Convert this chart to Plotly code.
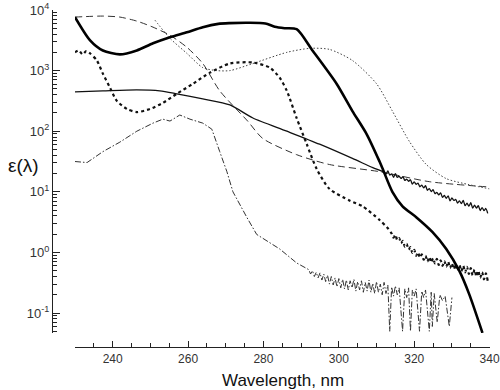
import plotly.graph_objects as go

# ---- data (wavelength nm, epsilon) ----
A_wl = [230, 234, 237.4, 241.9, 246.4, 250.7, 255.2, 259.7, 263.9, 268, 271.1, 276, 280.5, 283, 285.6, 288.8,
        293.0, 299.4, 303.6, 307.4, 310.8, 311.6, 314.2, 316.9, 320.6, 324.8, 328.5, 332.0, 334.6, 338.1]
A_eps = [7640, 3160, 2150, 1850, 2150, 2820, 3550, 4300, 5210, 5900, 6070, 6150, 6000, 5300, 5010, 4820,
         2150, 607, 215, 89, 31.6, 24.2, 10, 5.77, 3.78, 2.18, 1.14, 0.49, 0.203, 0.047]

B_wl = [230, 237.4, 241.9, 246.4, 250.7, 255.2, 259.7, 263.9, 268.4, 275.8, 279.8, 288.8, 297.5, 310.8, 324.0, 339.1]
B_eps = [7640, 7940, 7640, 6560, 5210, 3830, 2420, 1310, 464, 147, 76, 41, 28.2, 21.5, 14.7, 12.1]

E_wl = [251.2, 255.2, 259.7, 263.9, 267.6, 271.1, 277.2, 286.2, 292.3, 297.5, 303.6, 310.0, 314.2, 318.7,
        323.2, 328.5, 334.6, 339.9]
E_eps = [6810, 3410, 1920, 1120, 1000, 1000, 1310, 2000, 2330, 2240, 1470, 607, 215, 68,
         28.2, 16.5, 13.1, 11.2]

C_wl = [230, 231, 232, 233, 234, 235.8, 237.4, 239.3, 241.1, 243.8, 246.4, 249.9, 253.3, 257.0, 261.3, 265.8,
        271.1, 277.2, 281.7, 284.3, 286.2, 288.8, 291.5, 294.1, 297.5, 302.8, 306.3, 310.8, 313,
        314, 314.5, 315, 315.5, 316, 316.5, 317, 317.5, 318, 318.5, 319, 319.5, 320, 320.5, 321, 321.5,
        322, 322.5, 323, 323.5, 324, 324.5, 325, 325.5, 326, 326.5, 327, 327.5, 328, 328.5, 329, 329.5,
        330, 330.5, 331, 331.5, 332, 332.5, 333, 333.5, 334, 334.5, 335, 335.5, 336, 336.5, 337, 337.5,
        338, 338.5, 339, 339.5]
C_eps = [2000, 2150, 1850, 2100, 1920, 1470, 891, 521, 316, 233, 207, 233, 293, 414, 607, 926,
         1310, 1360, 1120, 764, 464, 165, 61, 24, 11.2, 7.2, 5.77, 3.43, 2.5,
         2.05, 1.75, 1.95, 1.6, 1.72, 1.42, 1.55, 1.25, 1.38, 1.12, 1.22, 0.98, 1.1, 0.88, 1.0, 0.82,
         0.93, 0.76, 0.88, 0.71, 0.84, 0.68, 0.8, 0.66, 0.78, 0.62, 0.74, 0.6, 0.72, 0.58, 0.7, 0.55,
         0.66, 0.53, 0.64, 0.5, 0.62, 0.49, 0.6, 0.47, 0.58, 0.44, 0.55, 0.42, 0.52, 0.4, 0.5, 0.38,
         0.47, 0.36, 0.45, 0.34]

D_wl = [230, 237.4, 246.4, 252.5, 257.0, 263.9, 271.1, 277.2, 286.2, 294.9, 303.6, 309,
        312, 312.5, 313, 313.5, 314, 314.5, 315, 315.5, 316, 316.5, 317, 317.5, 318, 318.5, 319, 319.5,
        320, 320.5, 321, 321.5, 322, 322.5, 323, 323.5, 324, 324.5, 325, 325.5, 326, 326.5, 327, 327.5,
        328, 328.5, 329, 329.5, 330, 330.5, 331, 331.5, 332, 332.5, 333, 333.5, 334, 334.5, 335, 335.5,
        336, 336.5, 337, 337.5, 338, 338.5, 339, 339.5]
D_eps = [447, 464, 482, 464, 414, 341, 271, 165, 100, 61, 35.5, 25,
         21.0, 19.6, 22.1, 18.9, 19.8, 17.4, 19.9, 17.3, 18.1, 16.6, 17.8, 15.4, 16.2, 14.9, 15.8, 13.4,
         14.6, 13.3, 13.9, 12.1, 12.9, 11.6, 12.6, 10.6, 11.3, 10.1, 10.9, 9.3, 9.8, 8.9, 9.6, 8.1,
         8.7, 7.8, 8.6, 7.1, 7.9, 7.2, 7.5, 6.5, 7.1, 6.4, 7.2, 5.9, 6.5, 5.8, 6.6, 5.4,
         6.0, 5.4, 5.9, 4.9, 5.5, 4.9, 5.3, 4.4]

F_wl = [230, 233.2, 237.4, 241.9, 246.4, 250.7, 253.3, 255.2, 257.8, 260.5, 263.9, 266.3, 268.4, 270.3,
        271.9, 273.7, 275.6, 278.2, 281.7, 284.3, 288.8,
        292, 292.5, 293, 293.5, 294, 294.5, 295, 295.5, 296, 296.5, 297, 297.5, 298, 298.5, 299, 299.5,
        300, 300.5, 301, 301.5, 302, 302.5, 303, 303.5, 304, 304.5, 305, 305.5, 306, 306.5, 307, 307.5,
        308, 308.5, 309, 309.5, 310, 310.5, 311, 311.5, 312, 312.5, 313, 313.5, 314, 314.5, 315, 315.5,
        316, 316.9, 317.5, 318, 318.5, 319, 319.5, 320, 320.5, 321.4, 322, 322.5, 323, 324, 324.5, 324.8,
        325.3, 326.1, 326.8, 327.5, 328.2, 329.3, 330]
F_eps = [31.6, 30.4, 46, 66, 100, 136, 158, 147, 185, 158, 136, 108, 46, 21.5,
         10, 6.15, 3.78, 1.98, 1.43, 1.14, 0.67,
         0.52, 0.44, 0.5, 0.4, 0.47, 0.38, 0.46, 0.35, 0.44, 0.33, 0.42, 0.3, 0.4, 0.29, 0.38, 0.27,
         0.37, 0.26, 0.36, 0.25, 0.35, 0.24, 0.34, 0.26, 0.36, 0.23, 0.33, 0.24, 0.34, 0.22, 0.32, 0.23,
         0.35, 0.22, 0.31, 0.21, 0.33, 0.22, 0.3, 0.2, 0.32, 0.21, 0.29, 0.05, 0.27, 0.19, 0.28, 0.2,
         0.26, 0.05, 0.25, 0.18, 0.26, 0.05, 0.24, 0.19, 0.25, 0.05, 0.23, 0.18, 0.24, 0.05, 0.22, 0.06,
         0.21, 0.07, 0.2, 0.16, 0.19, 0.06, 0.18]

x_tickvals = [240, 260, 280, 300, 320, 340]
x_ticktext = ["240", "260", "280", "300", "320", "340"]
y_tickvals = [0.1, 1, 10, 100, 1000, 10000]
y_ticktext = ["10<sup>-1</sup>", "10<sup>0</sup>", "10<sup>1</sup>", "10<sup>2</sup>", "10<sup>3</sup>", "10<sup>4</sup>"]

fig = go.Figure()

def add(x, y, width, dash, color, shape="spline"):
    fig.add_trace(go.Scatter(x=x, y=y, mode="lines",
                             line=dict(width=width, dash=dash, color=color, shape=shape, smoothing=0.7),
                             showlegend=False, hoverinfo="skip"))

add(B_wl, B_eps, 1.0, "7px,4px", "#333333")
add(E_wl, E_eps, 1.0, "1.5px,2px", "#444444")
add(F_wl, F_eps, 1.0, "6px,2px,1.5px,2px", "#333333", shape="linear")
add(D_wl, D_eps, 1.3, "solid", "#111111")
add(C_wl, C_eps, 2.2, "3px,3px", "#111111")
add(A_wl, A_eps, 2.6, "solid", "#000000")

minor_y = []
for dec in [0.01, 0.1, 1, 10, 100, 1000]:
    for m in range(2, 10):
        v = m * dec
        if 0.045 <= v <= 10000:
            minor_y.append(v)

fig.update_layout(
    width=500, height=390, autosize=False,
    margin=dict(l=52, r=10, t=10, b=43, autoexpand=False),
    paper_bgcolor="white", plot_bgcolor="white",
    font=dict(family="Liberation Sans, Arial, sans-serif", color="#222222"),
    xaxis=dict(domain=[0.0525, 1], anchor="free", position=0, range=[230, 340.1], automargin=False,
               showline=True, linecolor="#222222", linewidth=1.3, mirror=False,
               ticks="inside", ticklen=6, tickwidth=1.2, tickcolor="#222222",
               tickmode="array", tickvals=x_tickvals, ticktext=x_ticktext,
               showgrid=False, zeroline=False,
               tickfont=dict(size=12, color="#333333"),
               minor=dict(ticks="inside", ticklen=3.5, dtick=5, tick0=230, tickcolor="#222222", showgrid=False)),
    yaxis=dict(domain=[0.0415, 1], anchor="free", position=0, type="log", range=[-1.33, 4], automargin=False,
               showline=True, linecolor="#222222", linewidth=1.3,
               ticks="inside", ticklen=7, tickwidth=1.2, tickcolor="#222222",
               tickmode="array", tickvals=y_tickvals, ticktext=y_ticktext,
               showgrid=False, zeroline=False,
               tickfont=dict(size=13, color="#333333"),
               minor=dict(ticks="inside", ticklen=4, tickmode="array", tickvals=minor_y,
                          tickcolor="#222222", showgrid=False)),
)

fig.add_annotation(text="Wavelength, nm", xref="paper", yref="paper", x=0.527, y=-0.098,
                   xanchor="center", yanchor="middle", showarrow=False,
                   font=dict(size=17, color="#111111"))
fig.add_annotation(text="ε(λ)", xref="paper", yref="paper", x=-0.064, y=0.54,
                   xanchor="center", yanchor="middle", showarrow=False,
                   font=dict(size=19, color="#111111"))

fig.write_html("out.html", config={"displayModeBar": False},
               post_script="document.body.style.margin='0';document.body.style.padding='0';")
